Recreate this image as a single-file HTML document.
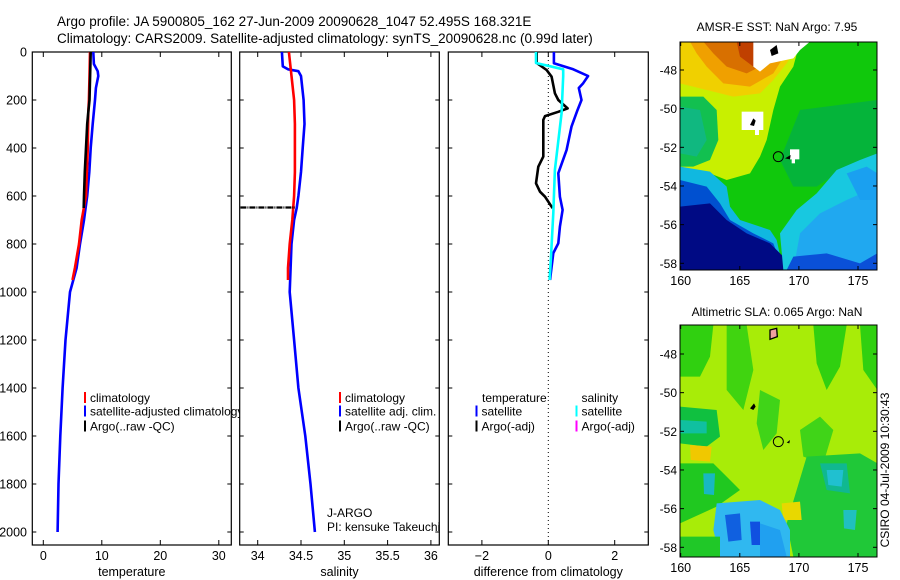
<!DOCTYPE html>
<html><head><meta charset="utf-8"><style>
html,body{margin:0;padding:0;background:#fff;}
svg{display:block;font-family:"Liberation Sans",sans-serif;}
text{fill:#000;}
</style></head><body>
<svg id="fig" width="900" height="580" viewBox="0 0 900 580" xmlns="http://www.w3.org/2000/svg">
<text x="57" y="26" font-size="13.5">Argo profile: JA 5900805_162 27-Jun-2009 20090628_1047 52.495S 168.321E</text>
<text x="57" y="43" font-size="13.5">Climatology: CARS2009. Satellite-adjusted climatology: synTS_20090628.nc (0.99d later)</text>
<g id="panels"></g>

<!-- top map: SST -->
<g>
<text x="777" y="31" font-size="12" text-anchor="middle">AMSR-E SST: NaN Argo: 7.95</text>
<clipPath id="c1"><rect x="680" y="42" width="197" height="228"/></clipPath>
<g clip-path="url(#c1)"><g transform="translate(660,0) scale(0.33333)">
<rect x="60" y="125" width="592" height="685" fill="#10c80c"/>
<path d="M420,330 L652,300 L652,470 L560,500 L470,560 L400,560 L360,480 Z" fill="#05b43a"/>
<path d="M60,125 L420,125 L400,200 L360,260 L340,330 L320,420 L300,470 L270,520 L200,540 L150,520 L60,500 Z" fill="#c8f000"/>
<path d="M60,125 L420,125 L380,190 L340,240 L300,280 L220,290 L140,270 L60,250 Z" fill="#f0d000"/>
<path d="M90,125 L400,125 L340,220 L270,260 L190,250 L140,200 L110,160 Z" fill="#f0a000"/>
<path d="M130,125 L360,125 L320,190 L260,220 L200,200 L160,160 Z" fill="#d87000"/>
<path d="M230,125 L330,125 L320,175 L280,200 L240,170 Z" fill="#c04000"/>
<path d="M60,290 L130,290 L170,330 L175,420 L150,480 L100,500 L60,500 Z" fill="#12c050"/>
<path d="M60,320 L120,330 L140,420 L110,470 L60,460 Z" fill="#10b880"/>
<path d="M60,500 L150,515 L200,560 L210,620 L240,660 L330,690 L350,720 L370,810 L60,810 Z" fill="#10b8e0"/>
<path d="M60,540 L140,560 L180,610 L210,660 L280,700 L340,730 L370,810 L60,810 Z" fill="#0050d0"/>
<path d="M60,620 L150,610 L200,660 L260,700 L330,730 L370,770 L380,810 L60,810 Z" fill="#000a84"/>
<path d="M370,810 L360,700 L410,630 L470,580 L530,510 L600,480 L652,460 L652,810 Z" fill="#18c8e0"/>
<path d="M420,700 L480,640 L560,600 L652,560 L652,810 L400,810 Z" fill="#20a8f0"/>
<path d="M560,520 L620,500 L652,520 L652,600 L600,600 Z" fill="#1aa0f0"/>
<path d="M380,810 L400,770 L500,760 L600,790 L652,760 L652,810 Z" fill="#0a50d8"/>
<path d="M280,125 L450,125 L420,150 L400,175 L330,190 L300,215 L280,200 Z" fill="#fff"/>
<rect x="245" y="335" width="65" height="55" fill="#fff"/><rect x="285" y="385" width="12" height="20" fill="#fff"/>
<rect x="390" y="448" width="28" height="30" fill="#fff"/><rect x="395" y="475" width="10" height="15" fill="#fff"/>
<path d="M330,150 L350,135 L355,160 L335,168 Z" fill="#000"/><path d="M270,375 L280,355 L287,362 L282,378 Z" fill="#000"/>
<circle cx="355" cy="470" r="15" fill="none" stroke="#000" stroke-width="3"/>
<path d="M375,475 L392,465 L390,478 Z" fill="#000"/>
</g></g>
<rect x="680" y="42" width="197" height="228" fill="none" stroke="#000"/>
</g>

<!-- bottom map: SLA -->
<g>
<text x="777" y="316" font-size="12" text-anchor="middle">Altimetric SLA: 0.065 Argo: NaN</text>
<clipPath id="c2"><rect x="680" y="325" width="197" height="232"/></clipPath>
<g clip-path="url(#c2)"><g transform="translate(660,290) scale(0.33333)">
<rect x="60" y="105" width="592" height="700" fill="#a8ec08"/>
<path d="M60,105 L160,105 L150,200 L120,260 L60,260 Z" fill="#30d010"/>
<path d="M200,105 L260,105 L280,240 L250,360 L200,300 Z" fill="#40d410"/>
<path d="M460,105 L560,105 L540,230 L500,300 L470,220 Z" fill="#30d010"/>
<path d="M600,105 L652,105 L652,300 L610,240 Z" fill="#30d010"/>
<path d="M300,300 L360,330 L350,430 L310,480 L290,400 Z" fill="#40d418"/>
<path d="M420,420 L480,380 L520,420 L490,520 L430,500 Z" fill="#40d418"/>
<path d="M60,350 L170,360 L180,440 L140,470 L60,460 Z" fill="#10c040"/>
<path d="M60,390 L140,395 L140,430 L60,430 Z" fill="#10c0a0"/>
<path d="M60,520 L160,520 L200,560 L240,600 L170,650 L60,700 Z" fill="#20c820"/>
<path d="M440,500 L600,490 L652,520 L652,800 L400,800 L380,700 Z" fill="#20c838"/>
<path d="M480,520 L560,520 L570,610 L500,600 Z" fill="#10b890"/>
<path d="M500,540 L550,540 L545,590 L505,585 Z" fill="#20c0d0"/>
<path d="M550,660 L590,660 L585,720 L552,715 Z" fill="#20c0c0"/>
<path d="M130,550 L165,550 L162,615 L132,612 Z" fill="#18b8c0"/>
<path d="M90,465 L155,470 L150,515 L92,510 Z" fill="#f0c800"/>
<path d="M365,640 L420,635 L425,690 L370,690 Z" fill="#e8d800"/>
<path d="M170,640 L300,630 L360,660 L390,720 L390,800 L180,800 L160,720 Z" fill="#30b8f0"/>
<path d="M195,675 L240,670 L245,750 L205,755 Z" fill="#1060e0"/>
<path d="M270,695 L300,695 L300,765 L275,765 Z" fill="#1050e0"/>
<path d="M300,700 L360,720 L380,800 L300,800 Z" fill="#20a0f0"/>
<path d="M60,740 L180,740 L180,800 L60,800 Z" fill="#20c828"/>
<path d="M330,120 L350,115 L352,140 L330,148 Z" fill="#f0a0a0" stroke="#000" stroke-width="4"/>
<path d="M270,355 L282,340 L287,350 L280,360 Z" fill="#000"/>
<circle cx="355" cy="455" r="15" fill="none" stroke="#000" stroke-width="3"/>
<path d="M380,458 L390,450 L388,460 Z" fill="#000"/>
</g></g>
<rect x="680" y="325" width="197" height="232" fill="none" stroke="#000"/>
<text transform="translate(889,470) rotate(-90)" font-size="12" text-anchor="middle">CSIRO 04-Jul-2009 10:30:43</text>
</g>
<g id="mapaxes"></g>
</svg>
<script>
// ---- data ----
const tempClimDepth=[0,100,200,250,400,500,600,700,800,900,950];
const tempClim=[7.98,7.9,7.8,7.7,7.6,7.45,7.3,6.56,6.1,5.4,5.0];
const tempSatDepth=[0,50,80,100,150,200,300,400,500,600,700,800,900,1000,1200,1400,1600,1800,2000];
const tempSat=[8.55,8.65,9.3,9.4,9.0,8.84,8.44,8.1,7.86,7.5,6.96,6.27,5.7,4.56,3.8,3.3,2.9,2.6,2.45];
const tempArgoDepth=[0,100,200,250,300,400,500,600,650];
const tempArgo=[8.1,8.0,7.9,7.7,7.5,7.3,7.1,6.95,6.9];
const salClimDepth=[0,100,200,300,400,500,600,650,700,800,900,950];
const salClim=[34.36,34.39,34.42,34.43,34.43,34.43,34.42,34.41,34.40,34.37,34.35,34.35];
const salSatDepth=[0,60,72,80,100,200,300,400,500,600,650,700,800,900,1000,1200,1400,1600,1800,2000];
const salSat=[34.28,34.29,34.35,34.47,34.50,34.53,34.54,34.52,34.50,34.47,34.45,34.42,34.39,34.38,34.37,34.42,34.47,34.55,34.61,34.66];
const salArgoDepth=[648,648];
const salArgo=[33.8,34.43];
const dTempSatDepth=[0,47,72,100,130,150,200,242,311,408,505,603,658,728,797,838,950];
const dTempSat=[0.17,0.17,0.75,1.2,1.05,0.92,1.0,0.88,0.7,0.55,0.3,0.35,0.43,0.35,0.3,0.15,0.05];
const dSalSatDepth=[0,46,72,100,254,491,671,853,950];
const dSalSat=[-0.37,-0.37,0.45,0.45,0.4,0.2,0.15,0.08,0.04];
const dTempArgoDepth=[0,46,75,103,172,200,235,249,267,283,436,478,547,582,603,651];
const dTempArgo=[-0.35,-0.35,-0.05,0.1,0.2,0.3,0.58,0.3,-0.1,-0.15,-0.15,-0.3,-0.37,-0.25,-0.1,0.13];
const depthTicks=[0,200,400,600,800,1000,1200,1400,1600,1800,2000];
const tempTicks=[0,10,20,30];
const salTicks=[34,34.5,35,35.5,36];
const diffTicks=[-2,0,2];
const latTicks=[48,50,52,54,56,58];
const lonTicks=[160,165,170,175];

// ---- axes ----
const yD=z=>52+0.24*z;
const xT=t=>43.3+5.85*t;
const xS=s=>257.7+86.6*(s-34);
const xDf=d=>548.3+33.2*d;
const NS='http://www.w3.org/2000/svg';
const root=document.getElementById('panels');
function mk(tag,attrs,parent){const e=document.createElementNS(NS,tag);for(const k in attrs)e.setAttribute(k,attrs[k]);(parent||root).appendChild(e);return e;}
function txt(x,y,s,anchor,size,parent){const t=mk('text',{x:x,y:y,'font-size':size||12,'text-anchor':anchor||'middle'},parent);t.textContent=s;return t;}

const panels=[
 {name:'temperature',x0:32.3,x1:231.3,fx:xT,ticks:tempTicks,label:'temperature'},
 {name:'salinity',x0:239.7,x1:439.3,fx:xS,ticks:salTicks,label:'salinity'},
 {name:'difference',x0:448.3,x1:648.3,fx:xDf,ticks:diffTicks,label:'difference from climatology'}
];
const Y0=52,Y1=545;
function line(xs,ds,fx,color,name,w){
 const pts=xs.map((v,i)=>fx(v).toFixed(1)+','+yD(ds[i]).toFixed(1)).join(' ');
 const p=mk('polyline',{points:pts,fill:'none',stroke:color,'stroke-width':w||2.6,'stroke-linejoin':'round'});
 
 
 return p;
}
function panelFrame(P,idx){
 const g=mk('g',{});
 
 
 mk('rect',{x:P.x0,y:Y0,width:P.x1-P.x0,height:Y1-Y0,fill:'#fff',stroke:'#000','stroke-width':1.2},g);
 depthTicks.forEach(z=>{
  mk('line',{x1:P.x0,x2:P.x0+4,y1:yD(z),y2:yD(z),stroke:'#000'},g);
  mk('line',{x1:P.x1-4,x2:P.x1,y1:yD(z),y2:yD(z),stroke:'#000'},g);
  if(idx===0){const t=txt(27,yD(z)+4.5,String(z),'end',12.5,g);
   
   }
 });
 P.ticks.forEach(v=>{
  const x=P.fx(v);
  mk('line',{x1:x,x2:x,y1:Y0,y2:Y0+5,stroke:'#000'},g);
  mk('line',{x1:x,x2:x,y1:Y1-5,y2:Y1,stroke:'#000'},g);
  const t=txt(x,560,v<0?'\u2212'+Math.abs(v):String(v),'middle',12.5,g);
  
  
 });
 const l=txt((P.x0+P.x1)/2,576,P.label,'middle',12.5,g);
 
 
 return g;
}
function legend(x,rows,g){
 rows.forEach((r,i)=>{
  const y=[398,411.5,426.5][i+(r.offset||0)];
  if(r.color){mk('rect',{x:x,y:y-6,width:2,height:11,fill:r.color},g);}
  const t=txt(x+6,y+4,r.label,'start',12,g);
  
  
 });
}
// panel 1
const g1=panelFrame(panels[0],0);
line(tempSat,tempSatDepth,xT,'#0000ff','temp-satellite-line');
line(tempClim,tempClimDepth,xT,'#ff0000','temp-climatology-line');
line(tempArgo,tempArgoDepth,xT,'#000','temp-argo-line');
legend(84,[{color:'#ff0000',label:'climatology'},{color:'#0000ff',label:'satellite-adjusted climatology'},{color:'#000',label:'Argo(..raw -QC)'}],g1);
// panel 2
const g2=panelFrame(panels[1],1);
line(salSat,salSatDepth,xS,'#0000ff','sal-satellite-line');
line(salClim,salClimDepth,xS,'#ff0000','sal-climatology-line');
const sa=line(salArgo,salArgoDepth,xS,'#000','sal-argo-line',2.2);sa.setAttribute('stroke-dasharray','6 1 1 1');
legend(339,[{color:'#ff0000',label:'climatology'},{color:'#0000ff',label:'satellite adj. clim.'},{color:'#000',label:'Argo(..raw -QC)'}],g2);
const j1=txt(327,517,'J-ARGO','start',12,g2);
const j2=txt(327,531,'PI: kensuke Takeuchi','start',12,g2);
// panel 3
const g3=panelFrame(panels[2],2);
mk('line',{x1:xDf(0),x2:xDf(0),y1:Y0,y2:Y1,stroke:'#000','stroke-dasharray':'1 3'},g3);
line(dTempArgo,dTempArgoDepth,xDf,'#000','diff-temp-argo-line');
line(dTempSat,dTempSatDepth,xDf,'#0000ff','diff-temp-satellite-line');
line(dSalSat,dSalSatDepth,xDf,'#00ffff','diff-sal-satellite-line');
legend(475.5,[{label:'temperature'},{color:'#0000ff',label:'satellite'},{color:'#000',label:'Argo(-adj)'}],g3);
legend(575.5,[{label:'salinity'},{color:'#00ffff',label:'satellite'},{color:'#ff00ff',label:'Argo(-adj)'}],g3);
g3.querySelectorAll('text')[g3.querySelectorAll('text').length-6].setAttribute('x',482);
// map axes
const ma=document.getElementById('mapaxes');
[{top:42,bot:270,y48:70},{top:325,bot:557,y48:354}].forEach((m,mi)=>{
 const ppd=19.33;
 latTicks.forEach(l=>{
  const y=m.y48+ppd*(l-48);
  if(y<m.top||y>m.bot)return;
  mk('line',{x1:680,x2:684,y1:y,y2:y,stroke:'#000'},ma);
  mk('line',{x1:873,x2:877,y1:y,y2:y,stroke:'#000'},ma);
  const t=txt(677,y+4.5,'-'+l,'end',12,ma);
  
  
 });
 lonTicks.forEach(l=>{
  const x=680.7+11.82*(l-160);
  mk('line',{x1:x,x2:x,y1:m.top,y2:m.top+4,stroke:'#000'},ma);
  mk('line',{x1:x,x2:x,y1:m.bot-4,y2:m.bot,stroke:'#000'},ma);
  const t=txt(x,m.bot+15,String(l),'middle',12.5,ma);
  
  
 });
});
</script>
</body></html>
